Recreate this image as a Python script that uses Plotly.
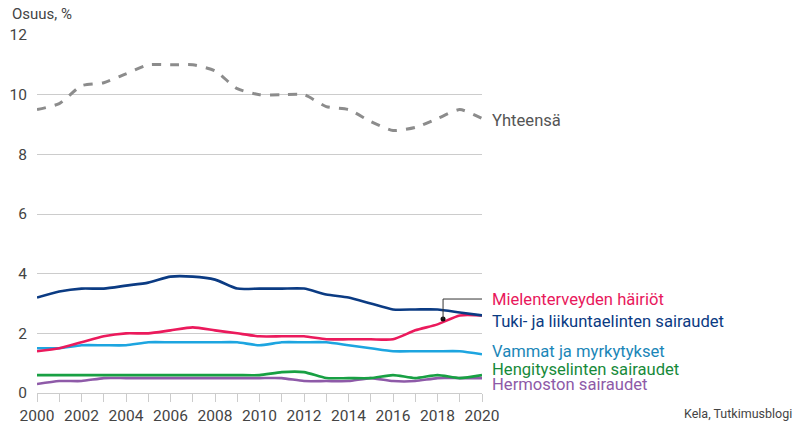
import plotly.graph_objects as go

years = list(range(2000, 2021))

yhteensa = [9.5, 9.7, 10.3, 10.4, 10.7, 11.0, 11.0, 11.0, 10.8, 10.2, 10.0,
             10.0, 10.0, 9.6, 9.5, 9.1, 8.8, 8.9, 9.2, 9.5, 9.2]
tuki = [3.2, 3.4, 3.5, 3.5, 3.6, 3.7, 3.9, 3.9, 3.8, 3.5, 3.5,
        3.5, 3.5, 3.3, 3.2, 3.0, 2.8, 2.8, 2.8, 2.7, 2.6]
mieli = [1.4, 1.5, 1.7, 1.9, 2.0, 2.0, 2.1, 2.2, 2.1, 2.0, 1.9,
         1.9, 1.9, 1.8, 1.8, 1.8, 1.8, 2.1, 2.3, 2.6, 2.6]
vammat = [1.5, 1.5, 1.6, 1.6, 1.6, 1.7, 1.7, 1.7, 1.7, 1.7, 1.6,
          1.7, 1.7, 1.7, 1.6, 1.5, 1.4, 1.4, 1.4, 1.4, 1.3]
hengitys = [0.6, 0.6, 0.6, 0.6, 0.6, 0.6, 0.6, 0.6, 0.6, 0.6, 0.6,
            0.7, 0.7, 0.5, 0.5, 0.5, 0.6, 0.5, 0.6, 0.5, 0.6]
hermosto = [0.3, 0.4, 0.4, 0.5, 0.5, 0.5, 0.5, 0.5, 0.5, 0.5, 0.5,
            0.5, 0.4, 0.4, 0.4, 0.5, 0.4, 0.4, 0.5, 0.5, 0.5]

# name, values, line colour, label colour, dash, label y (data units)
series = [
    ("Hermoston sairaudet", hermosto, "#8e5aa8", "#8e5aa8", "solid", 0.28),
    ("Hengityselinten sairaudet", hengitys, "#18a043", "#178a3a", "solid", 0.78),
    ("Vammat ja myrkytykset", vammat, "#1da5e0", "#1a86b8", "solid", 1.38),
    ("Mielenterveyden häiriöt", mieli, "#eb1a5c", "#e8185c", "solid", 3.13),
    ("Tuki- ja liikuntaelinten sairaudet", tuki, "#0b3b83", "#0b3b83", "solid", 2.41),
    ("Yhteensä", yhteensa, "#8c8c8c", "#555555", "dash", 9.15),
]

ytick_vals = [0, 2, 4, 6, 8, 10, 12]
xtick_text = [str(y) if y % 2 == 0 else "" for y in years]

FONT = "Roboto"

fig = go.Figure()
for name, vals, color, tcolor, dash, ly in series:
    fig.add_trace(go.Scatter(
        x=years, y=vals, mode="lines", name=name,
        line=dict(color=color, width=3 if dash == "dash" else 2.6, dash=dash,
                  shape="spline", smoothing=0.6),
        cliponaxis=False, showlegend=False,
    ))
    fig.add_annotation(x=2020, y=ly, xref="x", yref="y", text=name,
                       showarrow=False, xanchor="left", yanchor="middle", xshift=8,
                       font=dict(family=FONT, size=16.6, color=tcolor))

# leader line for Mielenterveyden häiriöt
lead_x = 2018.25
lead_y = 2.48
lead_top = 3.15
fig.add_shape(type="line", xref="x", yref="y", x0=lead_x, y0=lead_y, x1=lead_x, y1=lead_top,
              line=dict(color="#333333", width=1))
fig.add_shape(type="line", xref="x", yref="y", x0=lead_x, y0=lead_top, x1=2020.22, y1=lead_top,
              line=dict(color="#333333", width=1))
fig.add_trace(go.Scatter(x=[lead_x], y=[lead_y], mode="markers",
                         marker=dict(color="#111111", size=5),
                         showlegend=False, hoverinfo="skip", cliponaxis=False))

fig.add_annotation(x=0, y=1, xref="paper", yref="paper", text="Osuus, %",
                   showarrow=False, xanchor="left", yanchor="bottom",
                   xshift=-27, yshift=10,
                   font=dict(family=FONT, size=15, color="#444444"))
fig.add_annotation(x=1, y=0, xref="paper", yref="paper", text="Kela, Tutkimusblogi",
                   showarrow=False, xanchor="right", yanchor="middle",
                   xshift=312, yshift=-20,
                   font=dict(family=FONT, size=12.5, color="#444444"))

fig.update_layout(
    width=798, height=423,
    margin=dict(l=37, r=316, t=35, b=30, autoexpand=False),
    plot_bgcolor="white", paper_bgcolor="white",
    font=dict(family=FONT, size=15, color="#444444"),
    xaxis=dict(range=[2000, 2020], tickvals=years, ticktext=xtick_text,
               showgrid=False, zeroline=False, showline=False, automargin=False,
               ticks="outside", ticklen=8, tickcolor="#cccccc", tickwidth=1,
               tickfont=dict(family=FONT, size=15.5, color="#444444")),
    yaxis=dict(range=[0, 12], tickvals=ytick_vals, showgrid=True, automargin=False,
               gridcolor="#cccccc", gridwidth=1, zeroline=True,
               zerolinecolor="#cccccc", zerolinewidth=1, showline=False,
               ticks="", ticklabelstandoff=9,
               tickfont=dict(family=FONT, size=15.5, color="#444444")),
)

# remove the default 8px page margin so the figure fills the window exactly
fig.write_html("out.html", config={"displayModeBar": False},
               post_script="document.body.style.margin='0';document.body.style.overflow='hidden';")
